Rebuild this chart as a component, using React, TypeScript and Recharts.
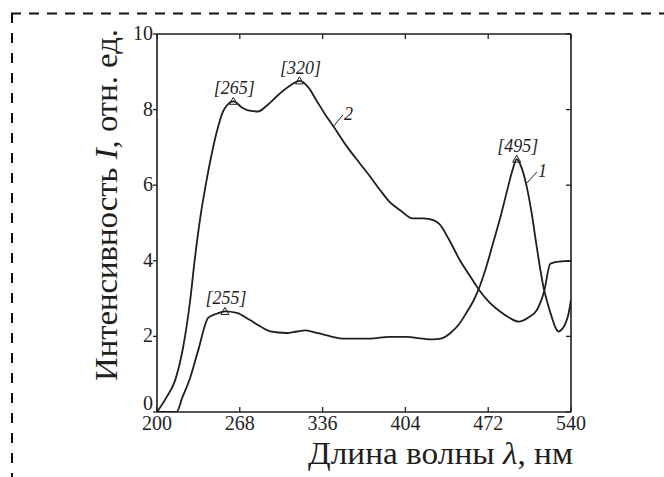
import { LineChart, Line, XAxis, YAxis, ReferenceDot, ReferenceLine, Label } from "recharts";

const ink = "#1f1f1f";
const serif = "Liberation Serif, Times New Roman, DejaVu Serif, serif";

const xTicks = [200, 268, 336, 404, 472, 540];
const yTicks = [0, 2, 4, 6, 8, 10];

// curve 1 (lower one, peak at 495 nm)
const curve1Nm = [200, 216, 221, 227, 234, 242, 249, 255.8, 265.5, 276, 285, 293, 306, 315, 321.5, 330, 337, 345, 353, 375, 391, 405, 418, 426, 434, 441, 448, 454, 460, 465, 471, 476, 482, 487, 492, 495.4, 499, 503.6, 508, 511.8, 517.3, 521, 524, 527, 529.6, 532, 535, 538, 540];
const curve1I = [0, 0, 0.4, 0.88, 1.65, 2.49, 2.6, 2.66, 2.62, 2.44, 2.26, 2.13, 2.09, 2.13, 2.16, 2.1, 2.05, 1.98, 1.94, 1.94, 1.99, 1.99, 1.94, 1.92, 1.95, 2.09, 2.32, 2.62, 2.95, 3.32, 3.9, 4.47, 5.15, 5.79, 6.4, 6.69, 6.5, 5.97, 5.2, 4.38, 3.32, 2.85, 2.53, 2.25, 2.13, 2.17, 2.31, 2.6, 2.97];

// curve 2 (upper one, peaks at 265 and 320 nm)
const curve2Nm = [200, 208, 215, 221.6, 227, 231, 235.3, 240, 243.5, 249, 254.5, 262.7, 270, 276, 283, 290, 300, 310, 317, 324, 331, 338, 345, 356, 366, 375, 383, 391, 400, 410, 418, 424, 432, 440, 449, 457, 465, 473, 482, 490, 497, 505, 512, 518, 523, 528, 534, 540];
const curve2I = [0, 0.4, 0.85, 1.74, 2.89, 4.03, 5.09, 6.0, 6.6, 7.4, 7.97, 8.22, 8.05, 7.97, 7.95, 8.1, 8.4, 8.65, 8.76, 8.6, 8.24, 7.88, 7.55, 7.02, 6.6, 6.23, 5.88, 5.56, 5.33, 5.12, 5.12, 5.1, 4.97, 4.55, 4.0, 3.6, 3.21, 2.9, 2.65, 2.48, 2.39, 2.5, 2.7, 3.2, 3.92, 3.97, 3.99, 4.0];

const peakNm = [255.8, 262.7, 317, 495.4];
const peakI = [2.66, 8.22, 8.76, 6.69];
const peakText = ["[255]", "[265]", "[320]", "[495]"];

const tagText = ["2", "1"];
const tagFrom = [{ x: 344.5, y: 7.54 }, { x: 503.9, y: 6.06 }];
const tagTo = [{ x: 352.7, y: 7.86 }, { x: 512, y: 6.35 }];

const curve1Rows = curve1Nm.map((nm, i) => ({ nm, I: curve1I[i] }));
const curve2Rows = curve2Nm.map((nm, i) => ({ nm, I: curve2I[i] }));

function BottomTick(props: any) {
  const { x, y, payload } = props;
  return (
    <g>
      <line x1={x} y1={y} x2={x} y2={y - 5} stroke={ink} strokeWidth={1.3} />
      <text x={x} y={y + 18} textAnchor="middle" fontFamily={serif} fontSize={20} fill={ink}>
        {payload.value}
      </text>
    </g>
  );
}

function LeftTick(props: any) {
  const { x, y, payload } = props;
  const dy = payload.value === 0 ? -2 : 6;
  return (
    <g>
      <line x1={x} y1={y} x2={x - 4} y2={y} stroke={ink} strokeWidth={1.3} />
      <text x={x - 4} y={y + dy} textAnchor="end" fontFamily={serif} fontSize={20} fill={ink}>
        {payload.value}
      </text>
    </g>
  );
}

function TopTick(props: any) {
  const { x, y } = props;
  return <line x1={x} y1={y} x2={x} y2={y + 5} stroke={ink} strokeWidth={1.3} />;
}

function RightTick(props: any) {
  const { x, y } = props;
  return <line x1={x} y1={y} x2={x - 5} y2={y} stroke={ink} strokeWidth={1.3} />;
}

function peakShape(text: string) {
  return (p: any) => (
    <g>
      <polygon
        points={`${p.cx},${p.cy - 4} ${p.cx - 4},${p.cy + 3} ${p.cx + 4},${p.cy + 3}`}
        fill="none"
        stroke={ink}
        strokeWidth={1}
      />
      <text x={p.cx + 1} y={p.cy - 7} textAnchor="middle" fontFamily={serif} fontStyle="italic" fontSize={18} fill={ink}>
        {text}
      </text>
    </g>
  );
}

function tagShape(text: string) {
  return (p: any) => (
    <text x={p.cx + 1} y={p.cy + 5} textAnchor="start" fontFamily={serif} fontStyle="italic" fontSize={18} fill={ink}>
      {text}
    </text>
  );
}

function Frame() {
  return (
    <svg width={664} height={477} style={{ position: "absolute", left: 0, top: 0 }}>
      <line x1={11} y1={13.5} x2={664} y2={13.5} stroke="#111" strokeWidth={2} strokeDasharray="10 8" />
      <line x1={12} y1={13} x2={12} y2={477} stroke="#111" strokeWidth={2} strokeDasharray="10 10" />
    </svg>
  );
}

export default function App() {
  return (
    <div style={{ position: "absolute", left: 0, top: 0, width: 664, height: 477, background: "#fff" }}>
      <Frame />
      <div style={{ position: "absolute", left: 0, top: 0 }}>
        <LineChart width={664} height={477} margin={{ top: 33, right: 92, bottom: 0, left: 0 }}>
          <XAxis
            dataKey="nm"
            type="number"
            domain={[200, 540]}
            ticks={xTicks}
            interval={0}
            height={65}
            tickSize={0}
            tickMargin={0}
            tickLine={false}
            tick={<BottomTick />}
            axisLine={{ stroke: ink, strokeWidth: 1.6 }}
            allowDataOverflow
          >
            <Label
              content={() => (
                <text x={308} y={464} fontFamily={serif} fontSize={31} fill={ink} textLength={265} lengthAdjust="spacingAndGlyphs">
                  Длина волны <tspan fontStyle="italic">λ</tspan>, нм
                </text>
              )}
            />
          </XAxis>
          <XAxis
            xAxisId="top"
            orientation="top"
            dataKey="nm"
            type="number"
            domain={[200, 540]}
            ticks={xTicks}
            interval={0}
            height={1}
            tickSize={0}
            tickMargin={0}
            tickLine={false}
            tick={<TopTick />}
            axisLine={{ stroke: ink, strokeWidth: 1.6 }}
            allowDataOverflow
          />
          <YAxis
            type="number"
            domain={[0, 10]}
            ticks={yTicks}
            interval={0}
            width={157}
            tickSize={0}
            tickMargin={0}
            tickLine={false}
            tick={<LeftTick />}
            axisLine={{ stroke: ink, strokeWidth: 1.6 }}
            allowDataOverflow
          >
            <Label
              content={() => (
                <text
                  transform="translate(117,205) rotate(-90)"
                  textAnchor="middle"
                  fontFamily={serif}
                  fontSize={32}
                  fill={ink}
                  textLength={352}
                  lengthAdjust="spacingAndGlyphs"
                >
                  Интенсивность <tspan fontStyle="italic">I</tspan>, отн. ед.
                </text>
              )}
            />
          </YAxis>
          <YAxis
            yAxisId="right"
            orientation="right"
            type="number"
            domain={[0, 10]}
            ticks={yTicks}
            interval={0}
            width={1}
            tickSize={0}
            tickMargin={0}
            tickLine={false}
            tick={<RightTick />}
            axisLine={{ stroke: ink, strokeWidth: 1.6 }}
            allowDataOverflow
          />
          <Line
            data={curve1Rows}
            dataKey="I"
            type="monotone"
            stroke={ink}
            strokeWidth={1.8}
            dot={false}
            isAnimationActive={false}
          />
          <Line
            data={curve2Rows}
            dataKey="I"
            type="monotone"
            stroke={ink}
            strokeWidth={1.8}
            dot={false}
            isAnimationActive={false}
          />
          {tagText.map((t, i) => (
            <ReferenceLine key={"l" + t} segment={[tagFrom[i], tagTo[i]]} stroke={ink} strokeWidth={1} />
          ))}
          {tagText.map((t, i) => (
            <ReferenceDot key={"t" + t} x={tagTo[i].x} y={tagTo[i].y} r={0} shape={tagShape(t)} />
          ))}
          {peakText.map((t, i) => (
            <ReferenceDot key={t} x={peakNm[i]} y={peakI[i]} r={4} shape={peakShape(t)} />
          ))}
        </LineChart>
      </div>
    </div>
  );
}
